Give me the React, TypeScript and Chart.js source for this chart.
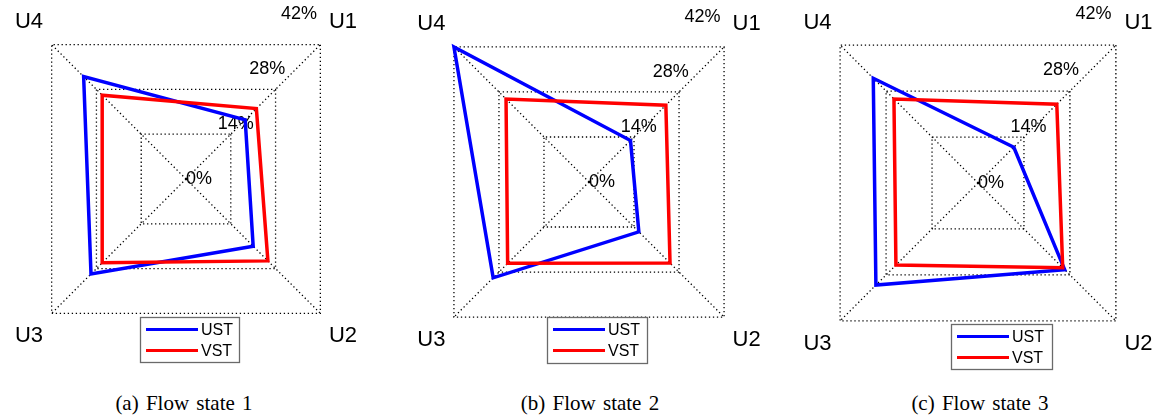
import React, { useEffect, useRef } from 'react';
import { Chart, registerables } from 'chart.js';

Chart.register(...registerables);

// Radar axes, clockwise from the top-right corner
const axisLabels = ['U1', 'U2', 'U3', 'U4'];

// Radial ticks (percent)
const tickValues = [0, 14, 28, 42];
const tickLabels = ['0%', '14%', '28%', '42%'];

const seriesNames = ['UST', 'VST'];
const seriesColors = ['#0000ff', '#ff0000'];

// Share per axis (%), flow state 1
const ustState1 = [18.5, 21.0, 29.7, 32.0];
const vstState1 = [22.0, 25.6, 26.2, 26.2];

// Flow state 2
const ustState2 = [12.9, 15.5, 29.8, 42.0];
const vstState2 = [23.9, 25.2, 25.3, 25.8];

// Flow state 3
const ustState3 = [10.9, 26.4, 31.1, 31.9];
const vstState3 = [24.0, 25.8, 25.0, 25.6];

const captions = ['(a) Flow state 1', '(b) Flow state 2', '(c) Flow state 3'];

const SANS = '"Liberation Sans", Arial, Helvetica, sans-serif';
const SERIF = '"Liberation Serif", "Times New Roman", Times, serif';

// Layout of the three panels (page pixels): radar centre, radius, legend box
const panels = [
  { ust: ustState1, vst: vstState1, cx: 186, cy: 179, radius: 190, legend: { x: -46, y: 138, w: 99, h: 45 }, captionX: 184 },
  { ust: ustState2, vst: vstState2, cx: 589, cy: 182, radius: 191, legend: { x: -42, y: 135, w: 100, h: 46 }, captionX: 590 },
  { ust: ustState3, vst: vstState3, cx: 978, cy: 183, radius: 195, legend: { x: -27, y: 141, w: 101, h: 45 }, captionX: 980 },
];

// Draws the percent labels along a 60° ray, the corner labels and the boxed legend
const radarDecor = {
  id: 'radarDecor',
  beforeDatasetsDraw(chart: any) {
    const scale = chart.scales.r;
    const ctx = chart.ctx as CanvasRenderingContext2D;
    const a = (60 * Math.PI) / 180;
    ctx.save();
    ctx.font = `18px ${SANS}`;
    ctx.fillStyle = '#000';
    ctx.textAlign = 'left';
    ctx.textBaseline = 'middle';
    tickValues.forEach((v, i) => {
      const d = scale.getDistanceFromCenterForValue(v);
      ctx.fillText(tickLabels[i], scale.xCenter + d * Math.cos(a), scale.yCenter - d * Math.sin(a));
    });
    ctx.restore();
  },
  afterDraw(chart: any, _args: any, opts: any) {
    const scale = chart.scales.r;
    const ctx = chart.ctx as CanvasRenderingContext2D;
    ctx.save();

    // corner labels
    ctx.font = `22px ${SANS}`;
    ctx.fillStyle = '#000';
    ctx.textAlign = 'center';
    ctx.textBaseline = 'middle';
    chart.data.labels.forEach((lab: string, i: number) => {
      const p = scale.getPointPosition(i, scale.drawingArea + 32);
      ctx.fillText(lab, p.x, p.y);
    });

    // legend
    const lg = opts.legend;
    const bx = scale.xCenter + lg.x;
    const by = scale.yCenter + lg.y;
    ctx.fillStyle = '#fff';
    ctx.fillRect(bx, by, lg.w, lg.h);
    ctx.strokeStyle = '#6a6a6a';
    ctx.lineWidth = 1.3;
    ctx.strokeRect(bx + 0.5, by + 0.5, lg.w, lg.h);
    ctx.font = `16px ${SANS}`;
    ctx.textAlign = 'left';
    chart.data.datasets.forEach((ds: any, i: number) => {
      const y = by + 12.5 + i * 21;
      ctx.strokeStyle = ds.borderColor;
      ctx.lineWidth = 3;
      ctx.beginPath();
      ctx.moveTo(bx + 6, y);
      ctx.lineTo(bx + 58, y);
      ctx.stroke();
      ctx.fillStyle = '#000';
      ctx.fillText(ds.label, bx + 61, y + 1);
    });
    ctx.restore();
  },
};

function RadarPanel({ panel }: { panel: typeof panels[number] }) {
  const ref = useRef<HTMLCanvasElement>(null);

  useEffect(() => {
    if (!ref.current) return;
    const chart = new Chart(ref.current, {
      type: 'radar',
      data: {
        labels: axisLabels,
        datasets: [
          {
            label: seriesNames[0],
            data: panel.ust,
            borderColor: seriesColors[0],
            order: 1,
          },
          {
            label: seriesNames[1],
            data: panel.vst,
            borderColor: seriesColors[1],
            order: 0,
          },
        ],
      },
      options: {
        animation: false,
        responsive: true,
        maintainAspectRatio: false,
        layout: { padding: 0 },
        elements: {
          line: { borderWidth: 3.5, fill: false, tension: 0, borderJoinStyle: 'miter' },
          point: { radius: 0, hoverRadius: 0 },
        },
        scales: {
          r: {
            min: 0,
            max: 42,
            startAngle: 45,
            ticks: { display: false, stepSize: 14 },
            grid: { circular: false, color: '#000', lineWidth: 1.3 },
            border: { dash: [1.3, 2.7] },
            angleLines: { display: true, color: '#000', lineWidth: 1.3, borderDash: [1.3, 2.7] },
            pointLabels: { display: false },
          },
        },
        plugins: {
          legend: { display: false },
          tooltip: { enabled: false },
          radarDecor: { legend: panel.legend },
        } as any,
      },
      plugins: [radarDecor],
    } as any);
    return () => chart.destroy();
  }, [panel]);

  const size = panel.radius * 2;
  return (
    <div
      style={{
        position: 'absolute',
        left: panel.cx - panel.radius,
        top: panel.cy - panel.radius,
        width: size,
        height: size,
      }}
    >
      <canvas ref={ref} />
    </div>
  );
}

export default function App() {
  return (
    <div
      style={{
        position: 'absolute',
        left: 0,
        top: 0,
        width: 1162,
        height: 420,
        overflow: 'hidden',
        background: '#fff',
      }}
    >
      {panels.map((p, i) => (
        <RadarPanel key={i} panel={p} />
      ))}
      {panels.map((p, i) => (
        <div
          key={`cap${i}`}
          style={{
            position: 'absolute',
            left: p.captionX - 150,
            top: 391,
            width: 300,
            textAlign: 'center',
            fontFamily: SERIF,
            fontSize: 21,
            lineHeight: '24px',
            wordSpacing: 2,
            color: '#000',
            whiteSpace: 'nowrap',
          }}
        >
          {captions[i]}
        </div>
      ))}
    </div>
  );
}
